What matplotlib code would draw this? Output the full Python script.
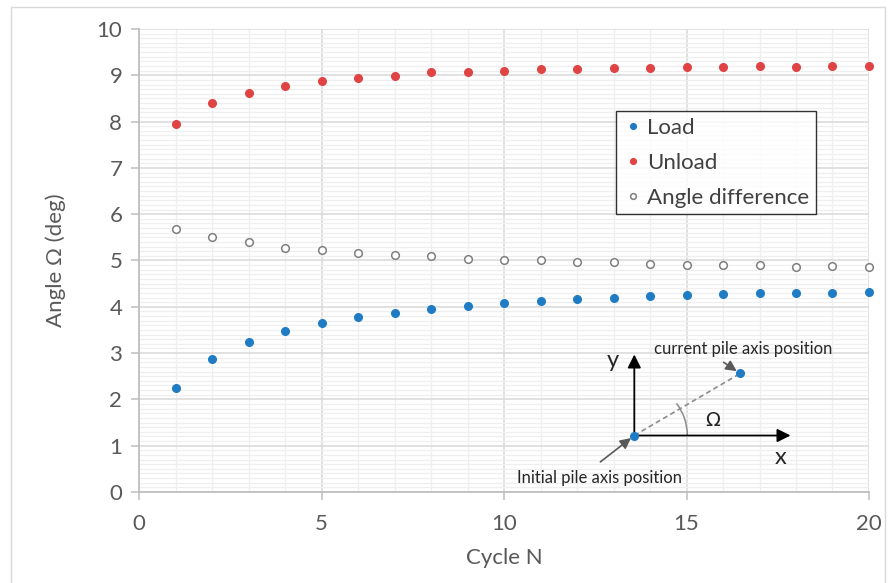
import matplotlib
matplotlib.use("Agg")
import matplotlib.pyplot as plt
from matplotlib.patches import Arc, Rectangle
from matplotlib.ticker import MultipleLocator

plt.rcParams['font.family'] = ['Lato', 'DejaVu Sans']

# data
cycles = list(range(1, 21))
load = [2.24, 2.88, 3.24, 3.47, 3.64, 3.78, 3.87, 3.95, 4.02, 4.08,
        4.13, 4.16, 4.20, 4.23, 4.25, 4.27, 4.30, 4.30, 4.30, 4.33]
unload = [7.94, 8.40, 8.62, 8.76, 8.87, 8.94, 8.99, 9.06, 9.06, 9.09,
          9.13, 9.14, 9.16, 9.16, 9.18, 9.18, 9.19, 9.18, 9.21, 9.20]
angle_diff = [5.69, 5.51, 5.39, 5.28, 5.23, 5.16, 5.11, 5.10, 5.03, 5.00,
              5.00, 4.97, 4.97, 4.93, 4.91, 4.90, 4.90, 4.87, 4.89, 4.86]

blue = '#1f7cc4'
red = '#e04343'
grey_txt = '#595959'

fig = plt.figure(figsize=(8.89, 5.83), dpi=100)
ax = fig.add_axes([0.1564, 0.1561, 0.8211, 0.7942])

# outer chart frame
fig.patches.append(Rectangle((11 / 889, -0.01), 874 / 889, 1 - 7 / 583 + 0.01,
                             transform=fig.transFigure, fill=False,
                             edgecolor='#d9d9d9', lw=1))

ax.plot(cycles, load, 'o', color=blue, ms=5.5, label='Load', zorder=3,
        clip_on=False)
ax.plot(cycles, unload, 'o', color=red, ms=5.5, label='Unload', zorder=3,
        clip_on=False)
ax.plot(cycles, angle_diff, 'o', mfc='white', mec='#7f7f7f', mew=1.1, ms=5.5,
        label='Angle difference', zorder=3, clip_on=False)

ax.set_xlim(0, 20)
ax.set_ylim(0, 10)
ax.xaxis.set_major_locator(MultipleLocator(5))
ax.xaxis.set_minor_locator(MultipleLocator(1))
ax.yaxis.set_major_locator(MultipleLocator(1))
ax.yaxis.set_minor_locator(MultipleLocator(0.1))
ax.grid(which='major', color='#d9d9d9', lw=1.1)
ax.grid(which='minor', color='#efefef', lw=0.9)
ax.set_axisbelow(True)

for s in ['top', 'right']:
    ax.spines[s].set_visible(False)
for s in ['left', 'bottom']:
    ax.spines[s].set_color('#bfbfbf')
    ax.spines[s].set_linewidth(1.3)

ax.tick_params(which='major', length=6, color='#bfbfbf', width=1.1,
               labelsize=16, labelcolor=grey_txt, pad=6)
ax.tick_params(which='minor', length=0)
ax.tick_params(axis='x', pad=10)

ax.set_xlabel('Cycle N', fontsize=16, color=grey_txt, labelpad=10)
ax.set_ylabel('Angle Ω (deg)', fontsize=16, color=grey_txt, labelpad=22)

leg = ax.legend(loc='upper left', bbox_to_anchor=(0.653, 0.823), fontsize=16,
                frameon=True, fancybox=False, edgecolor='black',
                handletextpad=0.1, handlelength=1.0, borderpad=0.3,
                labelspacing=0.68, markerscale=0.75, borderaxespad=0)
leg.get_frame().set_linewidth(1.0)
for t in leg.get_texts():
    t.set_color('#404040')

# inset sketch of the pile axis rotation
o = (13.57, 1.22)
p = (16.47, 2.56)
ax.annotate('', xy=(17.85, o[1]), xytext=o,
            arrowprops=dict(arrowstyle='-|>', color='black', lw=1.3,
                            mutation_scale=20, shrinkA=0, shrinkB=0))
ax.annotate('', xy=(o[0], 2.97), xytext=o,
            arrowprops=dict(arrowstyle='-|>', color='black', lw=1.3,
                            mutation_scale=20, shrinkA=0, shrinkB=0))
ax.plot([o[0], p[0]], [o[1], p[1]], ls='--', color='#8c8c8c', lw=1.2,
        dashes=(3, 2), zorder=2)
ax.plot([o[0], p[0]], [o[1], p[1]], 'o', color=blue, ms=5.5, zorder=4)
ax.add_patch(Arc(o, 2 * 53 / 36.5, 2 * 53 / 46.3, theta1=0, theta2=31,
                 color='#8c8c8c', lw=1.1))
ax.text(15.73, 1.55, 'Ω', fontsize=14, ha='center', va='center',
        color='#262626', family=['DejaVu Sans'])
ax.text(17.58, 0.74, 'x', fontsize=17, ha='center', va='center', color='#262626')
ax.text(12.97, 2.85, 'y', fontsize=17, ha='center', va='center', color='#262626')

ax.text(14.1, 3.08, 'current pile axis position', fontsize=12,
        color='#262626', va='center', ha='left')
ax.annotate('', xy=p, xytext=(16.02, 2.8),
            arrowprops=dict(arrowstyle='-|>', color='#595959', lw=1.2,
                            mutation_scale=16, shrinkA=0, shrinkB=3))
ax.text(10.35, 0.3, 'Initial pile axis position', fontsize=12,
        color='#262626', va='center', ha='left')
ax.annotate('', xy=o, xytext=(12.64, 0.65),
            arrowprops=dict(arrowstyle='-|>', color='#595959', lw=1.2,
                            mutation_scale=16, shrinkA=0, shrinkB=3))

fig.savefig('out.png', dpi=100)
